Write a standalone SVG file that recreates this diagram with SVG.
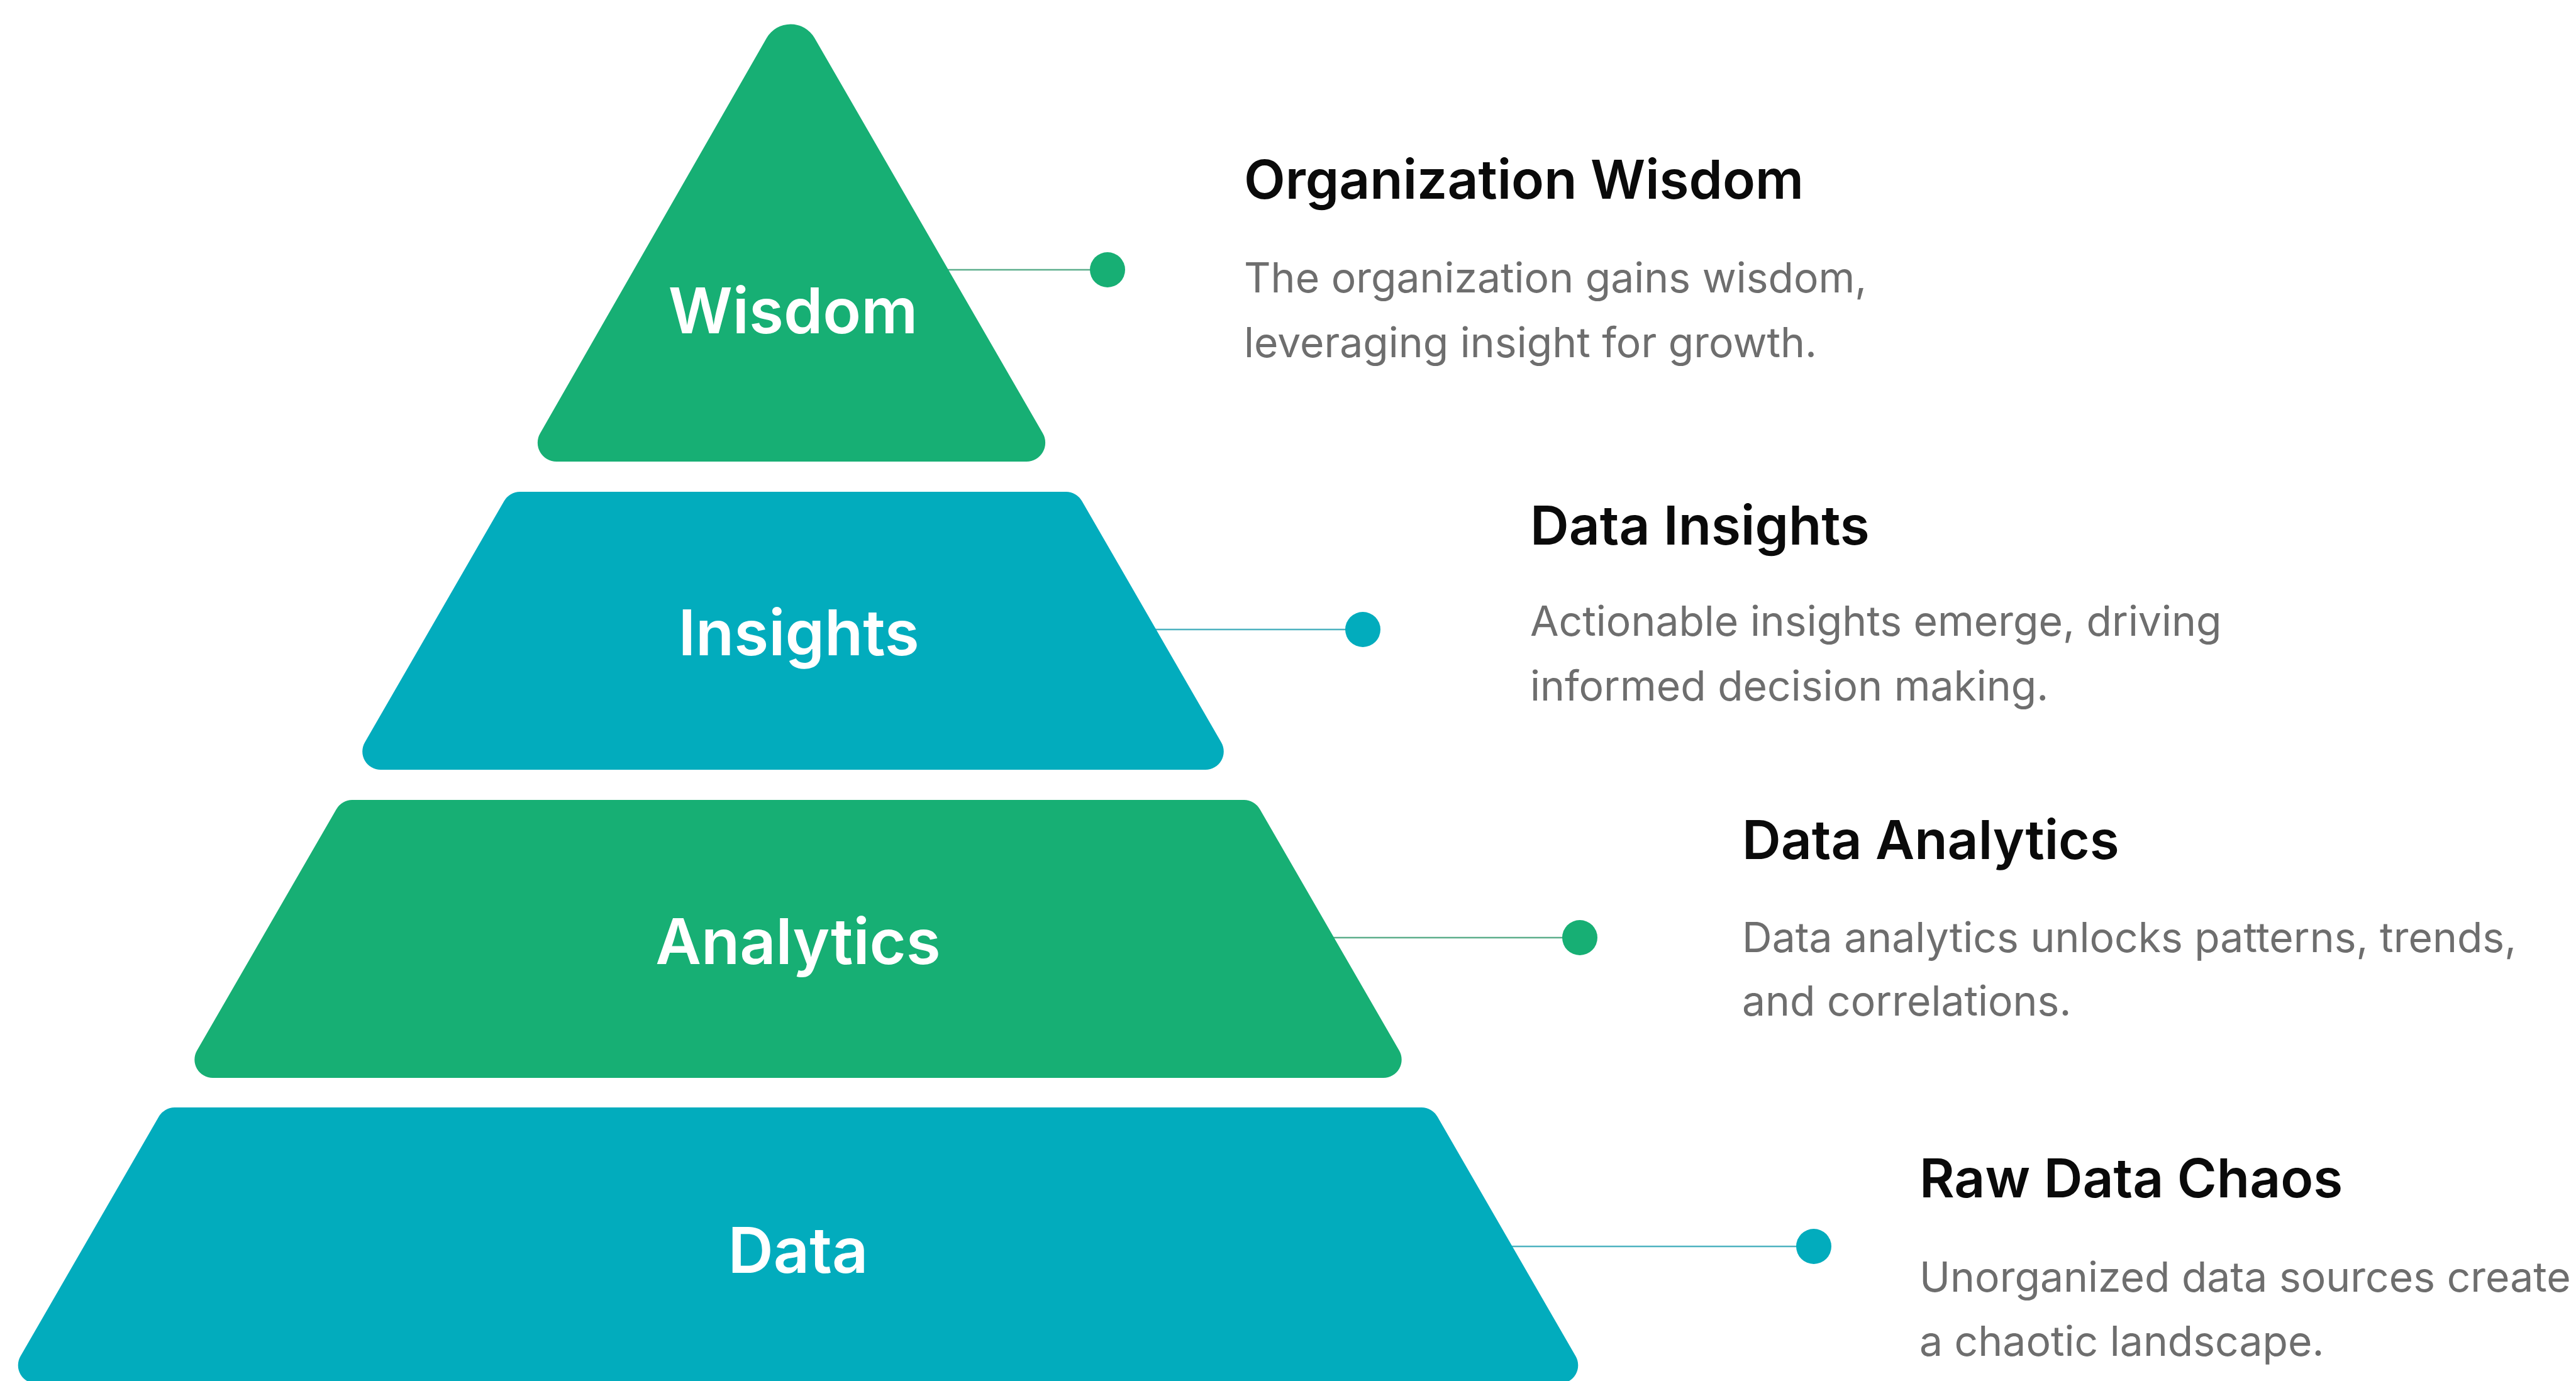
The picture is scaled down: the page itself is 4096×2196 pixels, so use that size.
<svg xmlns="http://www.w3.org/2000/svg" width="4096" height="2196" viewBox="0 0 4096 2196">
  <style>
    .green { fill: #17AF74; }
    .teal { fill: #02ACBD; }
    .label { font-family: Inter, "Liberation Sans", sans-serif; font-weight: 600; font-size: 100px; fill: #FFFFFF; text-anchor: middle; }
    .title { font-family: Inter, "Liberation Sans", sans-serif; font-weight: 600; font-size: 85.5px; fill: #0A0A0A; }
    .desc { font-family: Inter, "Liberation Sans", sans-serif; font-weight: 400; font-size: 66px; fill: #6E6E6E; }
    .link-green { stroke: #5DAE8C; stroke-width: 2.5; fill: none; }
    .link-teal { stroke: #4FB3C0; stroke-width: 2.5; fill: none; }
  </style>
  <rect x="0" y="0" width="4096" height="2196" fill="#FFFFFF"/>

  <!-- leader lines and end dots -->
  <g id="connectors">
    <line class="link-green" x1="1490" y1="429" x2="1761" y2="429"/>
    <circle class="green" cx="1761" cy="429" r="28"/>
    <line class="link-teal" x1="1820" y1="1001" x2="2167" y2="1001"/>
    <circle class="teal" cx="2167" cy="1001" r="28"/>
    <line class="link-green" x1="2100" y1="1491" x2="2512" y2="1491"/>
    <circle class="green" cx="2512" cy="1491" r="28"/>
    <line class="link-teal" x1="2385" y1="1982" x2="2884" y2="1982"/>
    <circle class="teal" cx="2884" cy="1982" r="28"/>
  </g>

  <!-- pyramid tiers -->
  <g id="tier-wisdom">
    <path class="green" d="M 1219.1 60.3 A 44 44 0 0 1 1295.1 60.2 L 1658.1 689 A 30 30 0 0 1 1632.1 734 L 885 734 A 30 30 0 0 1 858.9 688.9 Z"/>
    <text class="label" x="1261" y="530">Wisdom</text>
  </g>
  <g id="tier-insights">
    <path class="teal" d="M 826.7 782 L 1695.1 782 A 29 29 0 0 1 1720.2 796.5 L 1941.9 1180.5 A 29 29 0 0 1 1916.8 1224 L 605.2 1224 A 29 29 0 0 1 580.1 1180.5 L 801.7 796.5 A 29 29 0 0 1 826.7 782 Z"/>
    <text class="label" x="1270" y="1042">Insights</text>
  </g>
  <g id="tier-analytics">
    <path class="green" d="M 560 1272 L 1978 1272 A 29 29 0 0 1 2003.1 1286.5 L 2224.8 1670.5 A 29 29 0 0 1 2199.7 1714 L 338.3 1714 A 29 29 0 0 1 313.2 1670.5 L 535 1286.5 A 29 29 0 0 1 560 1272 Z"/>
    <text class="label" x="1269" y="1533">Analytics</text>
  </g>
  <g id="tier-data">
    <path class="teal" d="M 277.6 1761 L 2260.4 1761 A 29 29 0 0 1 2285.5 1775.5 L 2505.4 2156.5 A 29 29 0 0 1 2480.3 2200 L 57.7 2200 A 29 29 0 0 1 32.6 2156.5 L 252.6 1775.5 A 29 29 0 0 1 277.6 1761 Z"/>
    <text class="label" x="1269" y="2024">Data</text>
  </g>

  <!-- descriptions -->
  <g id="note-wisdom">
    <text class="title" x="1978" y="316">Organization Wisdom</text>
    <text class="desc" x="1978" y="465">The organization gains wisdom,</text>
    <text class="desc" x="1978" y="568">leveraging insight for growth.</text>
  </g>
  <g id="note-insights">
    <text class="title" x="2433" y="866">Data Insights</text>
    <text class="desc" x="2433" y="1011">Actionable insights emerge, driving</text>
    <text class="desc" x="2433" y="1114">informed decision making.</text>
  </g>
  <g id="note-analytics">
    <text class="title" x="2770" y="1366">Data Analytics</text>
    <text class="desc" x="2770" y="1514">Data analytics unlocks patterns, trends,</text>
    <text class="desc" x="2770" y="1615">and correlations.</text>
  </g>
  <g id="note-data">
    <text class="title" x="3052" y="1904">Raw Data Chaos</text>
    <text class="desc" x="3052" y="2054">Unorganized data sources create</text>
    <text class="desc" x="3052" y="2156">a chaotic landscape.</text>
  </g>
</svg>
